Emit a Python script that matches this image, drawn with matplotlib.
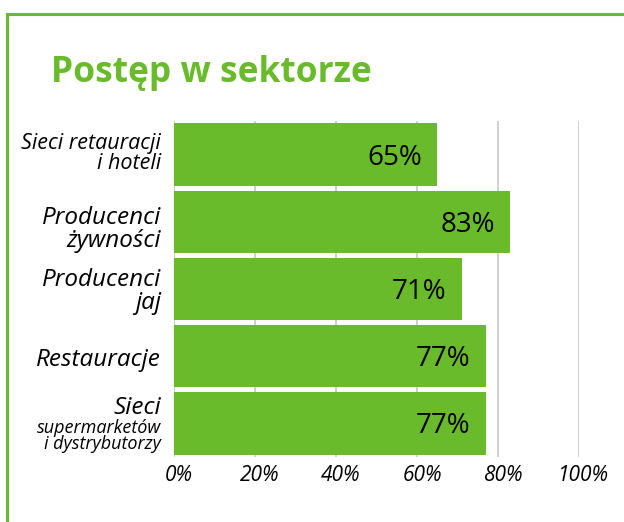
import matplotlib
matplotlib.use("Agg")
import matplotlib.pyplot as plt
from matplotlib.lines import Line2D
import matplotlib.transforms as mtransforms

plt.rcParams['font.family'] = ['Open Sans', 'DejaVu Sans']

title = "Postęp w sektorze"
categories = ["Sieci retauracji\ni hoteli", "Producenci\nżywności", "Producenci\njaj",
              "Restauracje", "Sieci\nsupermarketów\ni dystrybutorzy"]
values = [65, 83, 71, 77, 77]
xticks = [0, 20, 40, 60, 80, 100]
xticklabels = ["0%", "20%", "40%", "60%", "80%", "100%"]

green = "#69bb2c"
W, H = 624, 522
fig = plt.figure(figsize=(W / 100, H / 100), dpi=100)

# frame lines
fig.add_artist(Line2D([7 / W, 1], [1 - 14 / H, 1 - 14 / H], color=green, lw=2.2, transform=fig.transFigure))
fig.add_artist(Line2D([7 / W, 7 / W], [0, 1 - 14 / H], color=green, lw=2.2, transform=fig.transFigure))

fig.text(51 / W, 1 - 82 / H, title, color=green, fontsize=25.5, fontweight='bold',
         ha='left', va='baseline')

left, right, top, bottom = 174, 579, 121, 457
ax = fig.add_axes([left / W, 1 - bottom / H, (right - left) / W, (bottom - top) / H])
ypos = list(range(len(values)))
ax.barh(ypos, values, height=0.93, color=green, zorder=2)
ax.set_xlim(0, 100)
ax.set_ylim(len(values) - 0.5, -0.5)
ax.set_xticks(xticks)
ax.set_xticklabels(xticklabels, fontsize=15, fontstyle='italic')
ax.tick_params(axis='x', length=0, pad=6)
shift = mtransforms.ScaledTranslation(5 / 100, 0, fig.dpi_scale_trans)
for lab in ax.get_xticklabels():
    lab.set_transform(lab.get_transform() + shift)
ax.set_yticks([])
for s in ax.spines.values():
    s.set_visible(False)
ax.grid(axis='x', color='#c8c8c8', lw=1.2, zorder=0)
ax.set_axisbelow(True)

slot = (bottom - top) / len(values)

# value labels
for i, v in enumerate(values):
    ax.text(v, i, f"{v}%", ha='right', va='center', fontsize=20,
            transform=ax.transData + mtransforms.ScaledTranslation(-15 / 100, -3 / 100, fig.dpi_scale_trans))

# category labels: (text, baseline offset px of LAST line from bar centre, fontsize)
cat0 = categories[4].split("\n")
label_specs = [
    (categories[0], 14, 15.5),
    (categories[1], 25, 17.5),
    (categories[2], 20, 17.5),
    (categories[3], 10, 17.5),
    (cat0[0], -9, 17.5),
    ("\n".join(cat0[1:]), 26, 13),
]
rows = [0, 1, 2, 3, 4, 4]
xlab = (161 - left) / (right - left)
blend = mtransforms.blended_transform_factory(ax.transAxes, ax.transData)
for r, (txt, off, fs) in zip(rows, label_specs):
    ax.text(xlab, r + off / slot, txt, ha='right', va='baseline', fontsize=fs,
            fontstyle='italic', multialignment='right', linespacing=0.92, transform=blend)

fig.savefig("out.png", dpi=100)
